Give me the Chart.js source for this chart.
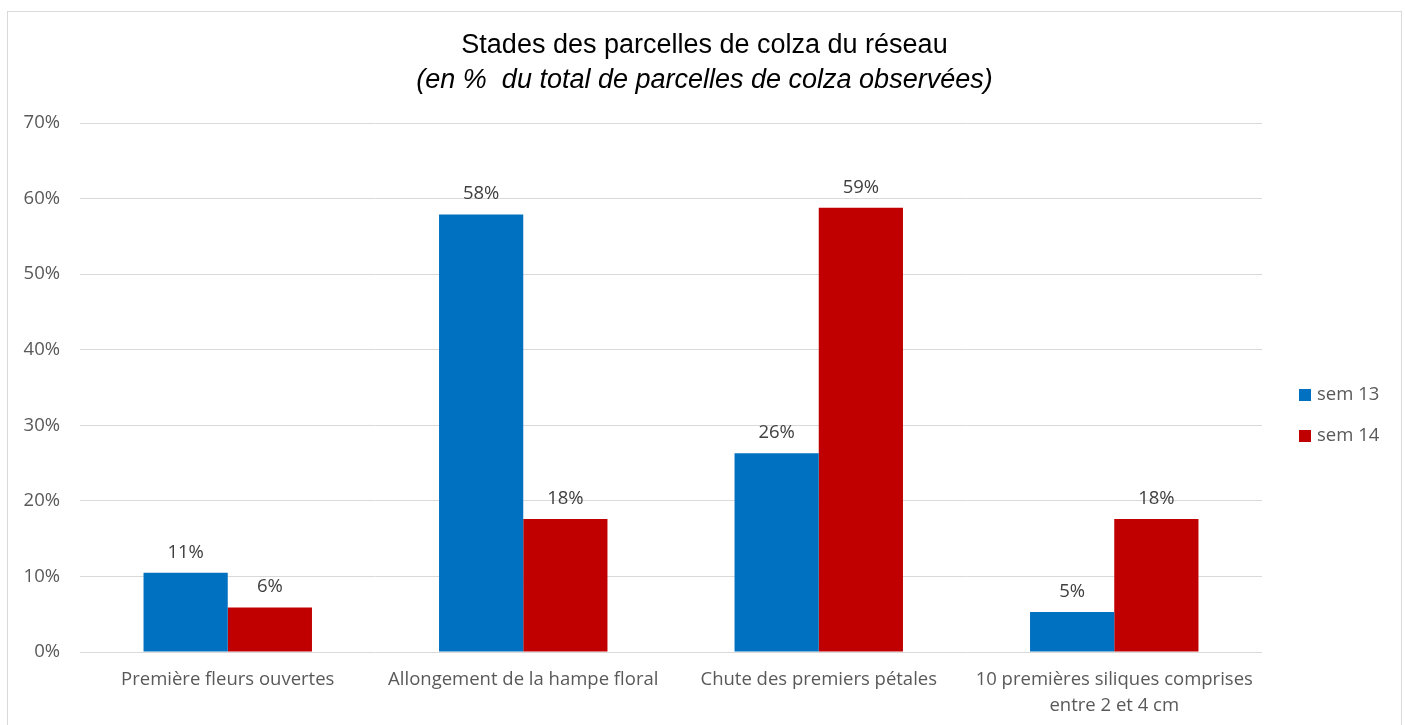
<!DOCTYPE html>
<html>
<head>
<meta charset="utf-8">
<script src="https://cdn.jsdelivr.net/npm/chart.js@4.4.1/dist/chart.umd.min.js"></script>
<style>
  html, body { margin: 0; padding: 0; background: #fff; overflow: hidden; }
  #frame {
    position: absolute; left: 7px; top: 11px;
    width: 1393px; height: 730px;
    border: 1px solid #d9d9d9;
  }
  #frame canvas { display: block; }
</style>
</head>
<body>
<div id="frame"><canvas id="stadesChart" width="1393" height="714"></canvas></div>
<script>
// ===== DATA =====
const categories = [
  'Première fleurs ouvertes',
  'Allongement de la hampe floral',
  'Chute des premiers pétales',
  ['10 premières siliques comprises', 'entre 2 et 4 cm']
];
const sem13 = [10.5, 57.9, 26.3, 5.3];
const sem14 = [5.9, 17.6, 58.8, 17.6];
const seriesNames = ['sem 13', 'sem 14'];
const yTicks = [0, 10, 20, 30, 40, 50, 60, 70];

const COLORS = { blue: '#0070c0', red: '#c00000', text: '#595959', label: '#404040', grid: '#d9d9d9' };
const FONT = "'Open Sans', 'Liberation Sans', sans-serif";
const TITLE_FONT = "'Liberation Sans', Arial, sans-serif";

// value labels on top of each bar
const barLabels = {
  id: 'barLabels',
  afterDatasetsDraw(chart) {
    const ctx = chart.ctx;
    ctx.save();
    ctx.font = '18.5px ' + FONT;
    ctx.fillStyle = COLORS.label;
    ctx.textAlign = 'center';
    ctx.textBaseline = 'alphabetic';
    chart.data.datasets.forEach((ds, i) => {
      chart.getDatasetMeta(i).data.forEach((bar, j) => {
        ctx.fillText(Math.round(ds.data[j]) + '%', bar.x, bar.y - 15);
      });
    });
    ctx.restore();
  }
};

// legend on the right, Excel style
const sideLegend = {
  id: 'sideLegend',
  afterDraw(chart) {
    const ctx = chart.ctx;
    const x = chart.chartArea.right + 37;
    const rows = [383, 424];
    ctx.save();
    ctx.font = '18.5px ' + FONT;
    ctx.textBaseline = 'middle';
    ctx.textAlign = 'left';
    chart.data.datasets.forEach((ds, i) => {
      ctx.fillStyle = ds.backgroundColor;
      ctx.fillRect(x, rows[i] - 6, 12, 12);
      ctx.fillStyle = COLORS.text;
      ctx.fillText(ds.label, x + 18, rows[i]);
    });
    ctx.restore();
  }
};

new Chart(document.getElementById('stadesChart'), {
  type: 'bar',
  data: {
    labels: categories,
    datasets: [
      { label: seriesNames[0], data: sem13, backgroundColor: COLORS.blue },
      { label: seriesNames[1], data: sem14, backgroundColor: COLORS.red }
    ]
  },
  options: {
    responsive: false,
    animation: false,
    categoryPercentage: 0.57,
    barPercentage: 1,
    layout: { padding: 0 },
    plugins: {
      legend: { display: false },
      tooltip: { enabled: false },
      title: {
        display: true,
        text: 'Stades des parcelles de colza du réseau',
        color: '#000',
        font: { family: TITLE_FONT, size: 27, weight: 'normal', lineHeight: 1.2 },
        padding: { top: 17, bottom: 0 }
      },
      subtitle: {
        display: true,
        text: '(en %  du total de parcelles de colza observées)',
        color: '#000',
        font: { family: TITLE_FONT, size: 27, style: 'italic', lineHeight: 1.2 },
        padding: { top: 2.4, bottom: 26.8 }
      }
    },
    scales: {
      x: {
        grid: { display: false, drawTicks: false },
        border: { display: false },
        ticks: { color: COLORS.text, font: { family: FONT, size: 18.5, lineHeight: 1.38 }, padding: 15, maxRotation: 0, autoSkip: false },
        afterFit: s => { s.height = 74; }
      },
      y: {
        min: 0, max: 70,
        afterBuildTicks: s => { s.ticks = yTicks.map(v => ({ value: v })); },
        grid: { color: COLORS.grid, drawTicks: false },
        border: { display: false },
        ticks: { color: COLORS.text, font: { family: FONT, size: 18.5 }, padding: 20, callback: v => v + '%' },
        afterFit: s => { s.width = 72; }
      },
      // empty right-hand axis that reserves room for the legend
      legendSpace: {
        position: 'right',
        grid: { display: false, drawTicks: false },
        border: { display: false },
        ticks: { display: false },
        afterFit: s => { s.width = 139; }
      }
    }
  },
  plugins: [barLabels, sideLegend]
});
</script>
</body>
</html>
